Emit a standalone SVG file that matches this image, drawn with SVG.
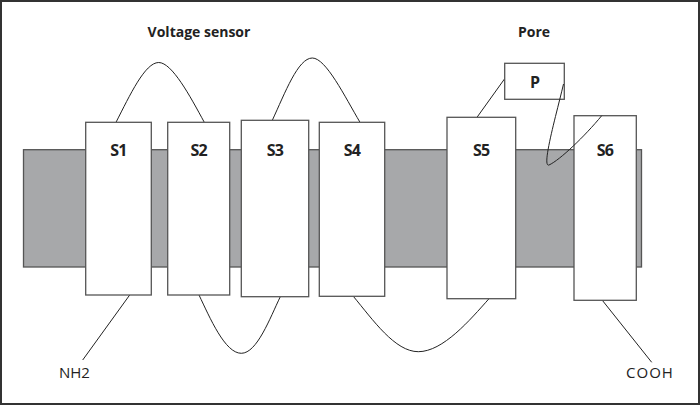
<svg xmlns="http://www.w3.org/2000/svg" width="700" height="405" viewBox="0 0 700 405">
<style>
.seg{fill:#fff;stroke:#555;stroke-width:1.3}
.lbl{font-family:"Open Sans","Liberation Sans",sans-serif;font-weight:bold;font-size:16px;fill:#222;text-anchor:middle;letter-spacing:-0.8px}
.hdr{font-family:"Open Sans","Liberation Sans",sans-serif;font-weight:bold;font-size:14px;fill:#222;text-anchor:middle}
.term{font-family:"Open Sans","Liberation Sans",sans-serif;font-size:15px;fill:#222}
.ln{fill:none;stroke:#222;stroke-width:1}
</style>
<rect x="1" y="1" width="698" height="403" fill="#fff" stroke="#333" stroke-width="2"/>
<g id="membrane"><rect x="23.5" y="149.7" width="618" height="117.3" fill="#a7a8aa" stroke="#555" stroke-width="1.3"/></g>
<text class="hdr" x="199" y="37">Voltage sensor</text>
<text class="hdr" x="534" y="37">Pore</text>
<g id="connectors">
<path class="ln" d="M116,122.3 C130,95 145,62.5 158.7,62.5 C172,62.5 190,96 204.3,122.3"/>
<path class="ln" d="M272.3,120.3 C285,93 298,58 312.3,58 C326,58 345,97 360,122.3"/>
<path class="ln" d="M477,117.3 L504.7,78.7"/>
<path class="ln" d="M199,295 C210,318 225,353.3 241.3,353.3 C257,353.3 270,318 280.3,296.7"/>
<path class="ln" d="M353.3,296.3 C373,320 395,351.7 418.3,351.7 C443,351.7 470,320 489,298.7"/>
<path class="ln" d="M129.7,295 L82.7,360"/>
<path class="ln" d="M602.3,300.3 L651.7,362.3"/>
</g>
<g id="S1"><rect class="seg" x="85.7" y="122.3" width="65.6" height="172.7"/><text class="lbl" x="118.5" y="156">S1</text></g>
<g id="S2"><rect class="seg" x="167.7" y="122.3" width="62" height="172.7"/><text class="lbl" x="198.7" y="156">S2</text></g>
<g id="S3"><rect class="seg" x="241.3" y="120.3" width="67.4" height="176.4"/><text class="lbl" x="275" y="156">S3</text></g>
<g id="S4"><rect class="seg" x="319.3" y="122.3" width="65.4" height="174"/><text class="lbl" x="352" y="156">S4</text></g>
<g id="S5"><rect class="seg" x="447" y="117.3" width="68.7" height="181.4"/><text class="lbl" x="481.3" y="156">S5</text></g>
<g id="S6"><rect class="seg" x="574" y="115.7" width="62.3" height="184.6"/><text class="lbl" x="605" y="156">S6</text></g>
<g id="P"><rect class="seg" x="504.7" y="63.3" width="59.6" height="36"/><text class="lbl" x="534.5" y="88">P</text></g>
<path class="ln" d="M563.5,84 C557,112 541,168 549,165 C560,160 585,136 601.7,115.7"/>
<text class="term" x="59" y="378">NH2</text>
<text class="term" x="650" y="378" text-anchor="middle" letter-spacing="1">COOH</text>
</svg>
